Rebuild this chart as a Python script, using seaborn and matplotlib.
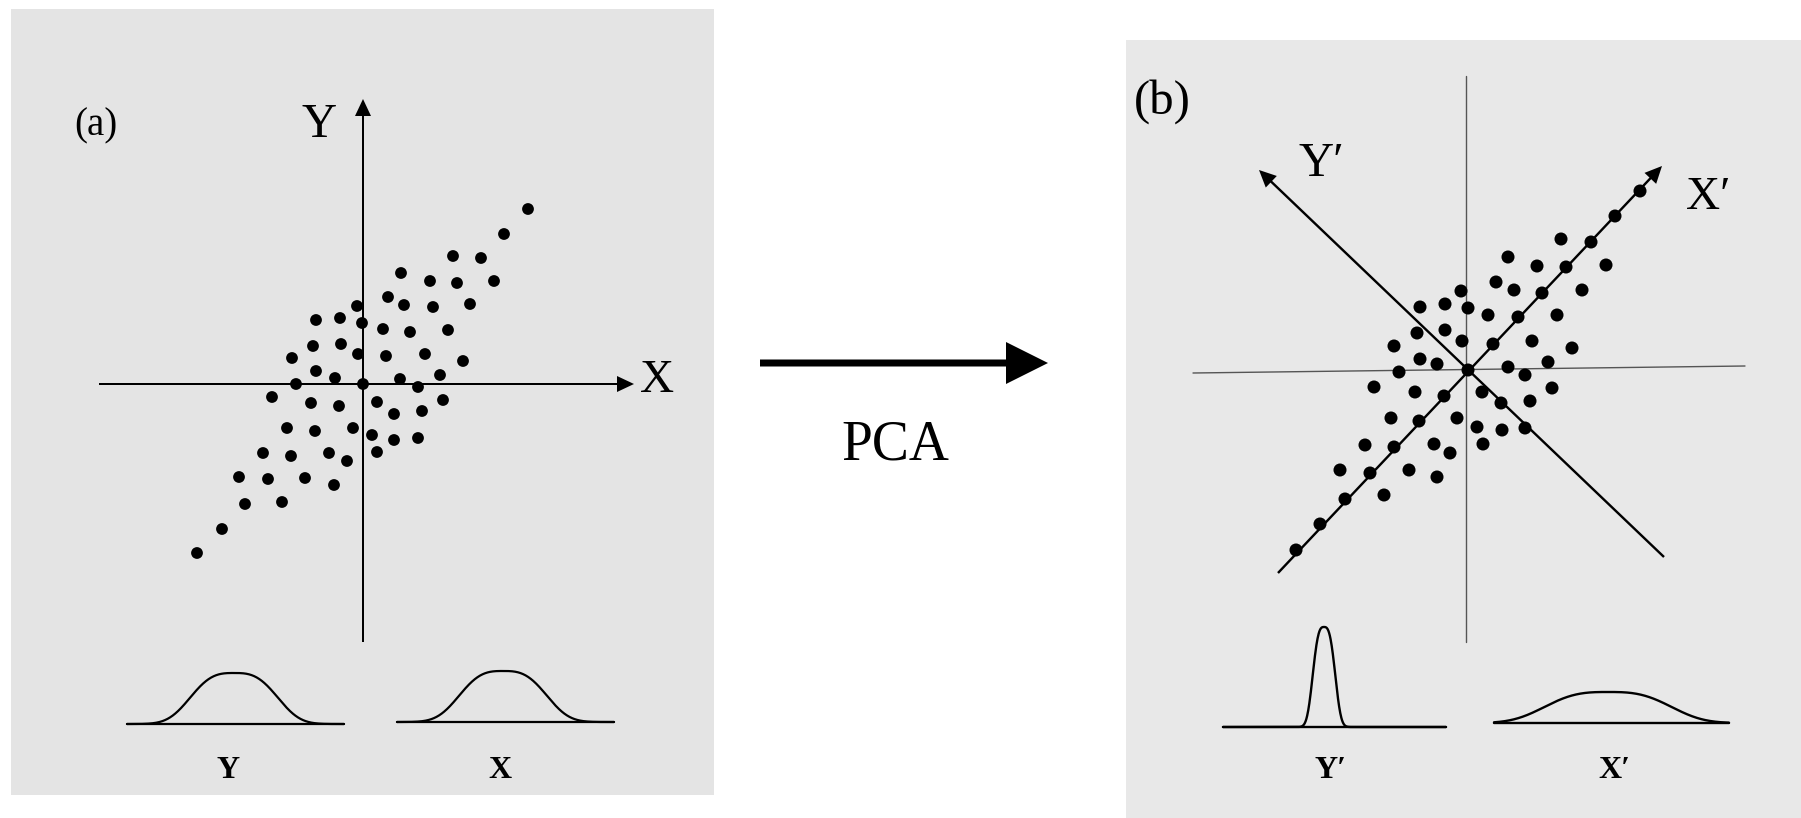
import numpy as np
import pandas as pd
import seaborn as sns
import matplotlib.pyplot as plt

# ---------------- data (offsets from each panel's axis origin, in pixels) ----------------
a_x = [165, 141, 90, 118, 38, 67, 94, 131, 25, 41, 70, 107, -6, -47, -23, -1, 20, 47, 85,
       -50, -22, -5, 23, 62, 100, -71, -47, -28, 0, -67, 37, 77, 55, -91, -52, -24, 14, 80,
       31, 59, -76, -48, -10, 9, 31, 55, -100, -72, -34, -16, 14, -124, -95, -58, -29,
       -118, -81, -141, -166]
a_y = [175, 150, 128, 126, 111, 103, 101, 103, 87, 79, 77, 80, 78, 64, 66, 61, 55, 52, 54,
       38, 40, 30, 28, 30, 23, 26, 13, 6, 0, 0, 5, 9, -3, -13, -19, -22, -18, -16,
       -30, -27, -44, -47, -44, -51, -56, -54, -69, -72, -69, -77, -68, -93, -95, -94, -101,
       -120, -118, -145, -169]

b_x = [-172, -148, -123, -98, -74, -49, -24, 0, 25, 50, 74, 98, 123, 147, 172,
       93, 40, 69, 138, -7, 28, 46, 114, -48, -23, 0, 20, 89, -51, -23, -6, 64, 104,
       -74, -48, -31, 40, 80, 57, -69, -94, -53, 14, 33, 62, 84, -77, -11, 9, 34, 57,
       -103, -34, 15, -18, -128, -59, -31, -84]
b_y = [-180, -154, -129, -103, -77, -51, -26, 0, 26, 53, 77, 103, 128, 154, 179,
       131, 113, 104, 105, 79, 88, 80, 80, 63, 66, 62, 55, 55, 37, 40, 29, 29, 22,
       24, 11, 6, 3, 8, -5, -2, -17, -22, -22, -33, -31, -18, -48, -48, -57, -60, -58,
       -75, -74, -74, -83, -100, -100, -107, -125]

# bell-curve sketches: [centre, width, exponent, height, baseline y, baseline x0, baseline x1]
a_dist_y = [-129, 40, 3, 51, -340, -236, -19]
a_dist_x = [140, 40, 3, 51, -338, 34, 251]
b_dist_y = [-144, 10.3, 3, 100, -357, -245, -22]
b_dist_x = [140, 58, 3, 31, -353, 26, 261]

panel_labels = ["(a)", "(b)"]
axis_labels_a = ["X", "Y"]
axis_labels_b = ["X\u2032", "Y\u2032"]
arrow_label = "PCA"

# ---------------- style ----------------
sns.set_style("white")
plt.rcParams["font.family"] = ["Liberation Serif", "DejaVu Serif"]
plt.rcParams["text.color"] = "black"

W, H = 1801, 818
fig = plt.figure(figsize=(W / 100, H / 100), dpi=100)


def panel_axes(x0, x1, y0, y1, ox, oy, face):
    ax = fig.add_axes([x0 / W, (H - y1) / H, (x1 - x0) / W, (y1 - y0) / H])
    ax.set_xlim(x0 - ox, x1 - ox)
    ax.set_ylim(oy - y1, oy - y0)
    ax.set_facecolor(face)
    ax.set_xticks([])
    ax.set_yticks([])
    for s in ax.spines.values():
        s.set_visible(False)
    return ax


def bell(ax, p, lw):
    c, sg, pw, h, base, x0, x1 = p
    xs = np.linspace(x0, x1, 600)
    ys = base + h * np.exp(-0.5 * np.abs((xs - c) / sg) ** pw)
    sns.lineplot(x=xs, y=ys, ax=ax, color="black", lw=lw, sort=False, estimator=None)
    ax.plot([x0, x1], [base, base], color="black", lw=lw)


def axis_arrow(ax, x0, y0, x1, y1, w):
    ax.arrow(x0, y0, x1 - x0, y1 - y0, width=w, head_width=16, head_length=17,
             length_includes_head=True, color="black", lw=0)


# ---------------- panel (a) ----------------
axa = panel_axes(11, 714, 9, 795, 363, 384, "#e4e4e4")
axis_arrow(axa, 0, -258, 0, 285, 2.0)
axis_arrow(axa, -264, 0, 271, 0, 2.0)
sns.scatterplot(x=a_x, y=a_y, ax=axa, s=72, color="black", edgecolor="none", zorder=3)
bell(axa, a_dist_y, 1.6)
bell(axa, a_dist_x, 1.6)
axa.text(-267, 258, panel_labels[0], fontsize=28, ha="center", va="center")
axa.text(-44, 259, axis_labels_a[1], fontsize=35, ha="center", va="center")
axa.text(294, 3, axis_labels_a[0], fontsize=34, ha="center", va="center")
axa.text(-135, -386, axis_labels_a[1], fontsize=23, ha="center", va="center",
         fontweight="bold")
axa.text(137, -386, axis_labels_a[0], fontsize=23, ha="center", va="center",
         fontweight="bold")

# ---------------- panel (b) ----------------
axb = panel_axes(1126, 1801, 40, 818, 1468, 370, "#e8e8e8")
axb.plot([-2, -2], [-272, 294], color="#555555", lw=1.0)
axb.plot([-275, 277], [-3, 4], color="#555555", lw=1.0)
axis_arrow(axb, -190, -203, 194, 204, 2.4)
axis_arrow(axb, 196, -187, -209, 200, 2.4)
sns.scatterplot(x=b_x, y=b_y, ax=axb, s=88, color="black", edgecolor="none", zorder=3)
bell(axb, b_dist_y, 1.7)
bell(axb, b_dist_x, 1.7)
axb.text(-306, 268, panel_labels[1], fontsize=35, ha="center", va="center")
axb.text(-147, 206, axis_labels_b[1], fontsize=35, ha="center", va="center")
axb.text(240, 172, axis_labels_b[0], fontsize=34, ha="center", va="center")
axb.text(-137, -400, axis_labels_b[1], fontsize=23, ha="center", va="center",
         fontweight="bold")
axb.text(146, -400, axis_labels_b[0], fontsize=23, ha="center", va="center",
         fontweight="bold")

# ---------------- PCA arrow ----------------
axm = fig.add_axes([0, 0, 1, 1], zorder=-1)
axm.set_xlim(0, W)
axm.set_ylim(H, 0)
axm.axis("off")
axm.arrow(760, 363, 1048 - 760, 0, width=7, head_width=42, head_length=42,
          length_includes_head=True, color="black", lw=0)
axm.text(895, 445, arrow_label, fontsize=40, ha="center", va="center")

fig.savefig("out.png", dpi=100, facecolor="white")
